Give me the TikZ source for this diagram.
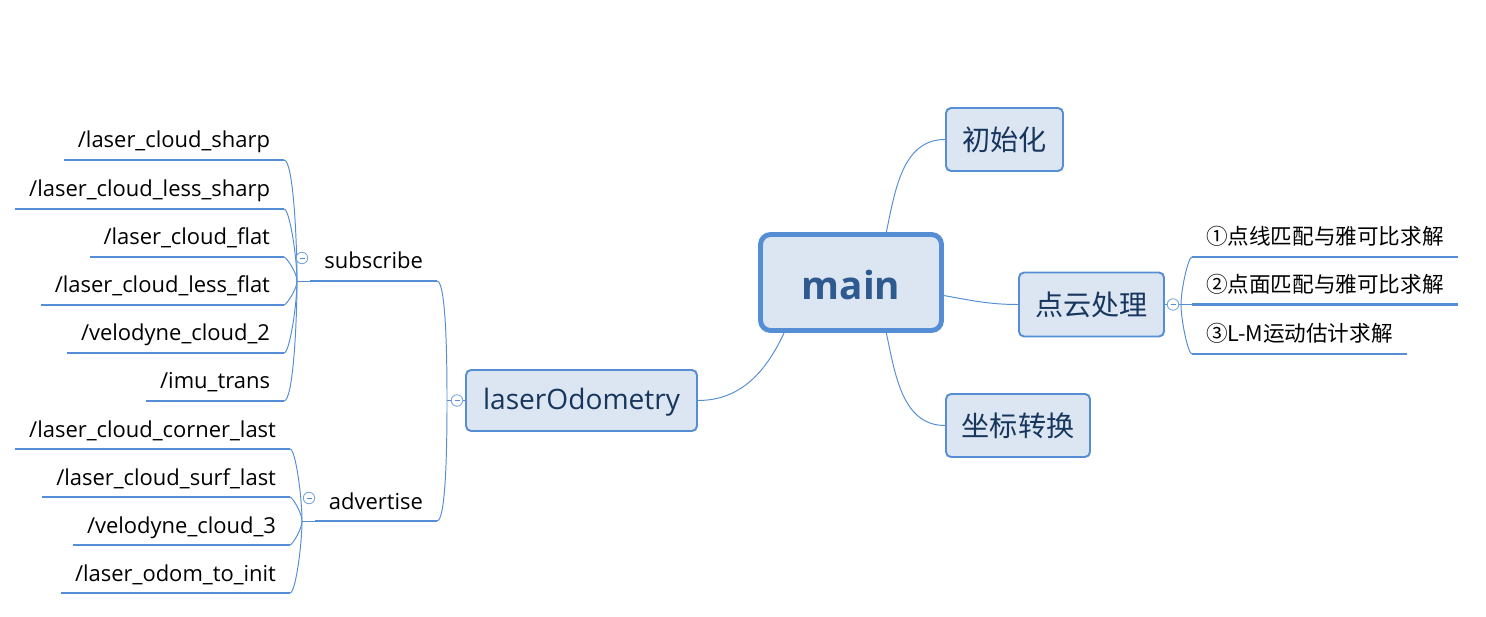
\documentclass[tikz,border=0pt]{standalone}
\usepackage{fontspec}
\setmainfont{Open Sans}
\newfontfamily\cjk{Noto Sans CJK SC}
\definecolor{boxfill}{RGB}{220,230,242}
\definecolor{boxline}{RGB}{85,142,213}
\definecolor{boxtext}{RGB}{23,54,93}
\definecolor{maintext}{RGB}{46,90,143}

\begin{document}
\begin{tikzpicture}[x=0.02cm,y=0.02cm,
  topic/.style={draw=boxline,fill=boxfill,line width=1.1pt,rounded corners=0.1cm,
                text=boxtext,font=\fontsize{16}{19}\selectfont,inner sep=0pt},
  leaf/.style={font=\fontsize{12.5}{15}\selectfont,inner xsep=0.28cm,inner ysep=0.24cm,
               text depth=0pt,outer sep=0pt},
  cjkleaf/.style={leaf,font=\cjk\fontsize{12.3}{15}\selectfont},
  uline/.style={draw=boxline,line width=1.7pt},
  link/.style={draw=boxline,line width=0.55pt},
  collapse/.style={circle,draw=boxline!80,fill=white,line width=0.5pt,minimum size=0.23cm,
                   inner sep=0pt,
                   path picture={\draw[boxline,line width=0.5pt]
                     ([xshift=-0.05cm]path picture bounding box.center) --
                     ([xshift=0.05cm]path picture bounding box.center);}}
]

  \useasboundingbox (0,0) rectangle (1486,-617);

  %% ===== central topic =====
  \node[topic,line width=2.8pt,rounded corners=0.2cm,minimum width=3.62cm,minimum height=1.92cm,
        text=maintext,font=\bfseries\fontsize{22}{26}\selectfont,
        text height=0.7cm,text depth=0cm] (main) at (851,-282.5) {main};

  %% ===== right side =====
  \node[topic,minimum width=2.34cm,minimum height=1.26cm] (init) at (1004.5,-139.5) {\cjk 初始化};
  \node[topic,minimum width=2.9cm,minimum height=1.28cm] (pc) at (1091.5,-304.5) {\cjk 点云处理};
  \node[topic,minimum width=2.88cm,minimum height=1.26cm] (tf) at (1018,-425.5) {\cjk 坐标转换};

  \draw[link] (main.55) to[out=78,in=180] (init.west);
  \draw[link] (main.-8) to[out=-10,in=180] (pc.west);
  \draw[link] (main.-55) to[out=-78,in=180] (tf.west);

  % point cloud steps
  \coordinate (jpc) at (1181,-304.5);
  \draw[link] (pc.east) -- (jpc);
  \node[cjkleaf,anchor=south west] (pc1) at (1192,-257) {①点线匹配与雅可比求解};
  \node[cjkleaf,anchor=south west] (pc2) at (1192,-304.5) {②点面匹配与雅可比求解};
  \node[cjkleaf,anchor=south west] (pc3) at (1192,-354) {③L-M运动估计求解};
  \foreach \n in {1,2,3}
    \draw[uline] (pc\n.south west) -- (pc\n.south east);
  \draw[link] (pc1.south west) to[out=180,in=90,out looseness=0.2,in looseness=0.8] (jpc);
  \draw[link] (pc2.south west) -- (jpc);
  \draw[link] (pc3.south west) to[out=180,in=-90,out looseness=0.2,in looseness=0.8] (jpc);
  \node[collapse] (cpc) at (1173,-304.5) {};

  %% ===== left side =====
  \node[topic,minimum width=4.62cm,minimum height=1.22cm,text height=0.51cm,text depth=0.135cm]
    (laser) at (581.5,-400.5) {laserOdometry};
  \draw[link] (main.-143) to[out=-115,in=0] (laser.east);

  \coordinate (jlas) at (447,-400.5);
  \draw[link] (laser.west) -- (jlas);
  \node[leaf,anchor=south east] (sub) at (437,-281) {subscribe};
  \node[leaf,anchor=south east] (adv) at (437,-521) {advertise};
  \draw[uline] (sub.south west) -- (sub.south east);
  \draw[uline] (adv.south west) -- (adv.south east);
  \draw[link] (sub.south east) to[out=0,in=90,out looseness=0.2,in looseness=0.8] (jlas);
  \draw[link] (adv.south east) to[out=0,in=-90,out looseness=0.2,in looseness=0.8] (jlas);
  \node[collapse] (clas) at (457,-400.5) {};

  % subscribed topics
  \coordinate (jsub) at (297,-281);
  \draw[link] (jsub) -- (sub.south west);
  \node[leaf,anchor=south east] (s1) at (284,-160) {/laser\_cloud\_sharp};
  \node[leaf,anchor=south east] (s2) at (284,-209) {/laser\_cloud\_less\_sharp};
  \node[leaf,anchor=south east] (s3) at (284,-257) {/laser\_cloud\_flat};
  \node[leaf,anchor=south east] (s4) at (284,-305) {/laser\_cloud\_less\_flat};
  \node[leaf,anchor=south east] (s5) at (284,-353) {/velodyne\_cloud\_2};
  \node[leaf,anchor=south east] (s6) at (284,-401) {/imu\_trans};
  \foreach \n in {1,...,6}
    \draw[uline] (s\n.south west) -- (s\n.south east);
  \foreach \n in {1,2,3}
    \draw[link] (s\n.south east) to[out=0,in=90,out looseness=0.2,in looseness=0.8] (jsub);
  \foreach \n in {4,5,6}
    \draw[link] (s\n.south east) to[out=0,in=-90,out looseness=0.2,in looseness=0.8] (jsub);
  \node[collapse] (csub) at (302,-258) {};

  % advertised topics
  \coordinate (jadv) at (302,-521);
  \draw[link] (jadv) -- (adv.south west);
  \node[leaf,anchor=south east] (a1) at (290,-449) {/laser\_cloud\_corner\_last};
  \node[leaf,anchor=south east] (a2) at (290,-497) {/laser\_cloud\_surf\_last};
  \node[leaf,anchor=south east] (a3) at (290,-545) {/velodyne\_cloud\_3};
  \node[leaf,anchor=south east] (a4) at (290,-593) {/laser\_odom\_to\_init};
  \foreach \n in {1,...,4}
    \draw[uline] (a\n.south west) -- (a\n.south east);
  \foreach \n in {1,2}
    \draw[link] (a\n.south east) to[out=0,in=90,out looseness=0.2,in looseness=0.8] (jadv);
  \foreach \n in {3,4}
    \draw[link] (a\n.south east) to[out=0,in=-90,out looseness=0.2,in looseness=0.8] (jadv);
  \node[collapse] (cadv) at (309,-498) {};

\end{tikzpicture}
\end{document}
